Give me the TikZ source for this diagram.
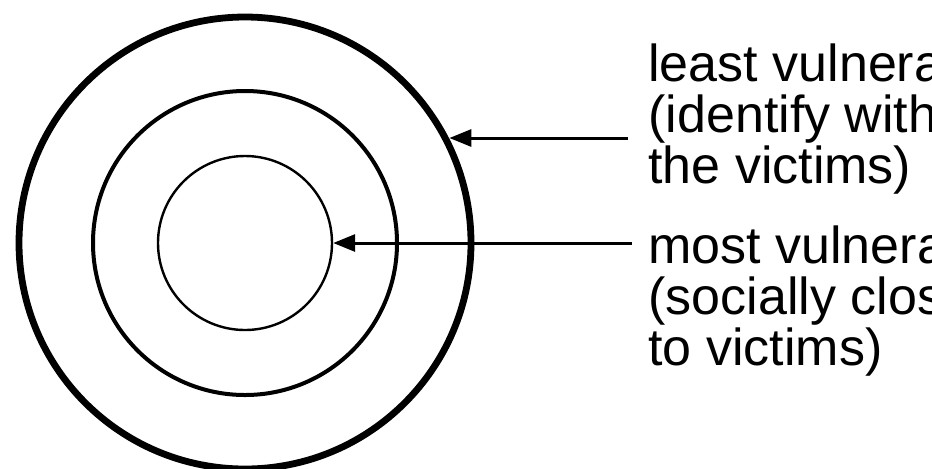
\documentclass[tikz,border=0pt]{standalone}
\usepackage{fontspec}
\setmainfont{Liberation Sans}
\usetikzlibrary{arrows.meta,positioning}
\tikzset{
  ring/.style={circle,draw,inner sep=0pt},
  pointer/.style={-{Triangle[length=11pt,width=8.5pt]},line width=1.5pt},
  notetext/.style={align=left,inner sep=0pt,font=\fontsize{26pt}{25.5pt}\selectfont}
}

\begin{document}
\begin{tikzpicture}[x=0.5pt,y=-0.5pt]
  \useasboundingbox (0,0) rectangle (932,468);
  \clip (0,0) rectangle (932,468);
  \node[ring,line width=3.4pt,minimum size=226pt] (outer) at (245,243) {};
  \node[ring,line width=2pt,minimum size=152pt] (middle) at (245,243) {};
  \node[ring,line width=1.2pt,minimum size=87pt] (inner) at (245,243) {};
  \node[notetext,anchor=north west] (least) at (648,43) {least vulnerable\\(identify with\\the victims)};
  \node[notetext,below right=15.5pt and 0pt of least.south west] (most) {most vulnerable\\(socially close\\to victims)};
  \coordinate (lvfrom) at (628,138);
  \coordinate (mvfrom) at (632,243);
  \draw[pointer] (lvfrom) -- (outer.27 |- lvfrom);
  \draw[pointer] (mvfrom) -- (inner.east);
\end{tikzpicture}
\end{document}
